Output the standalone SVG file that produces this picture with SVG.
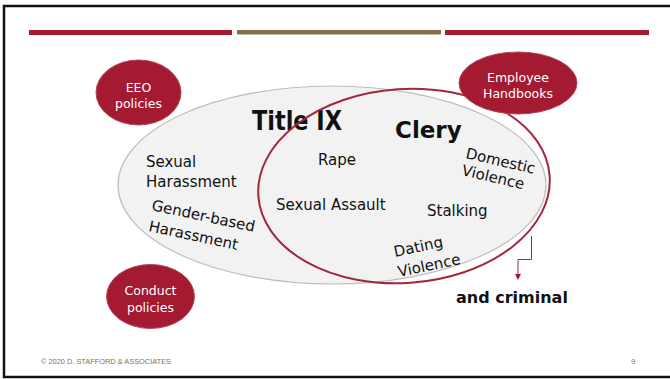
<svg xmlns="http://www.w3.org/2000/svg" width="670" height="379" viewBox="0 0 670 379">
<defs>
<style>
.body{font-family:"DejaVu Sans","Liberation Sans",sans-serif;font-size:15px;fill:#111}
.bub{fill:#a31a31;stroke:#b4465a;stroke-width:1}
.bt{font-family:"DejaVu Sans","Liberation Sans",sans-serif;font-size:12.5px;fill:#fff;text-anchor:middle}
.ttl{font-family:"DejaVu Sans","Liberation Sans",sans-serif;font-weight:bold;fill:#111}
.foot{font-family:"Liberation Sans","DejaVu Sans",sans-serif;fill:#7f7258}
</style>
<marker id="ah" markerWidth="6" markerHeight="6" refX="3" refY="3" orient="auto" markerUnits="userSpaceOnUse">
<path d="M0,0 L6,3 L0,6 z" fill="#a31a31"/>
</marker>
</defs>
<rect x="0" y="0" width="670" height="379" fill="#fff"/>
<rect x="4" y="6" width="710" height="371" fill="#fff" stroke="#111" stroke-width="2.5"/>
<g id="header-bars">
<rect x="29" y="30" width="203" height="5" fill="#a6192e"/>
<rect x="237" y="30" width="204" height="4.5" fill="#857048"/>
<rect x="445" y="30" width="204" height="5" fill="#a6192e"/>
</g>
<g id="titleix">
<ellipse cx="332" cy="185" rx="214" ry="99" fill="#f2f2f2" stroke="#bdbdbd" stroke-width="1.2"/>
<text class="ttl" x="252" y="130" font-size="26" textLength="90" lengthAdjust="spacingAndGlyphs">Title IX</text>
<text class="body" x="146" y="167">Sexual</text>
<text class="body" x="146" y="187">Harassment</text>
<text class="body" transform="translate(151,210) rotate(12)">Gender-based</text>
<text class="body" transform="translate(148,231) rotate(12)">Harassment</text>
</g>
<g id="clery">
<ellipse cx="404" cy="186" rx="146" ry="97" fill="none" stroke="#a3263c" stroke-width="2" transform="rotate(-4 404 186)"/>
<text class="ttl" x="395" y="138" font-size="23">Clery</text>
<text class="body" x="318" y="165">Rape</text>
<text class="body" x="276" y="210">Sexual Assault</text>
<text class="body" x="427" y="216">Stalking</text>
<text class="body" transform="translate(465,158) rotate(13)">Domestic</text>
<text class="body" transform="translate(461,175) rotate(13)">Violence</text>
<text class="body" transform="translate(395,257) rotate(-12)">Dating</text>
<text class="body" transform="translate(399,277) rotate(-12)">Violence</text>
</g>
<g id="eeo">
<ellipse class="bub" cx="138.5" cy="92.5" rx="42.5" ry="32.5"/>
<text class="bt" x="138.5" y="91.5">EEO</text>
<text class="bt" x="138.5" y="108">policies</text>
</g>
<g id="handbooks">
<ellipse class="bub" cx="518" cy="83" rx="59" ry="31"/>
<text class="bt" x="518" y="81.5">Employee</text>
<text class="bt" x="518" y="98">Handbooks</text>
</g>
<g id="conduct">
<ellipse class="bub" cx="150.5" cy="296.5" rx="44" ry="32"/>
<text class="bt" x="150.5" y="295">Conduct</text>
<text class="bt" x="150.5" y="311.5">policies</text>
</g>
<g id="connectors">
<path d="M531.5,236 V259.5 H518 V277" fill="none" stroke="#a3263c" stroke-width="1" marker-end="url(#ah)"/>
</g>
<g id="criminal">
<text class="ttl" x="456" y="303" font-size="16">and criminal</text>
</g>
<g id="footer">
<text class="foot" x="41" y="364" font-size="7.5" textLength="130" lengthAdjust="spacingAndGlyphs">© 2020 D. STAFFORD &amp; ASSOCIATES</text>
<text class="foot" x="631" y="364" font-size="8">9</text>
</g>
</svg>
